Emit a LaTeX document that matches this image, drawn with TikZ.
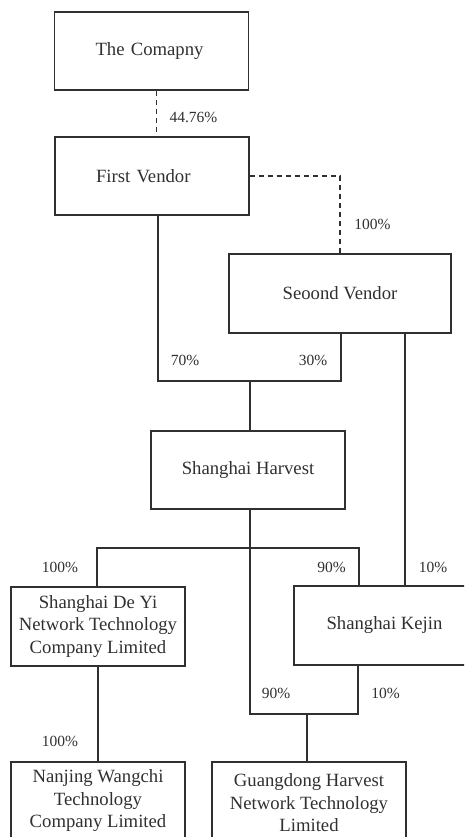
\documentclass[tikz,border=0pt]{standalone}
\usepackage{fontspec}
\setmainfont{Liberation Serif}
\definecolor{ink}{HTML}{303030}
\begin{document}
\begin{tikzpicture}[x=1pt,y=-1pt,
  box/.style={draw=ink, line width=1.2pt, rectangle, text=ink, align=center,
    inner sep=2pt, font=\fontsize{18.7}{22.5}\selectfont},
  lbox/.style={box, align=left, inner xsep=41pt, text width=112pt},
  pct/.style={text=ink, inner sep=0pt, font=\fontsize{15.5}{18}\selectfont},
  link/.style={draw=ink, line width=1.1pt},
  dlink/.style={link, dash pattern=on 5pt off 4pt}]
\useasboundingbox (0,0) rectangle (464,837);
\clip (0,0) rectangle (464,837);

% boxes
\node[lbox, minimum height=78pt] (comp) at (151.5,51) {The Comapny};
\node[lbox, minimum height=78pt] (fv) at (152,176) {First Vendor};
\node[box, minimum width=222pt, minimum height=79pt] (sv) at (340,293.5) {Seoond Vendor};
\node[box, minimum width=194pt, minimum height=78pt] (sh) at (248,470) {Shanghai Harvest};
\node[box, minimum width=174pt, minimum height=79pt] (dy) at (98,626.5) {Shanghai De Yi\\Network Technology\\Company Limited};
\node[box, minimum width=181pt, minimum height=79pt] (kj) at (384.5,625.5) {Shanghai Kejin};
\node[box, minimum width=174pt, minimum height=78pt] (nj) at (98,801) {Nanjing Wangchi\\Technology\\Company Limited};
\node[box, minimum width=194pt, minimum height=82pt] (gd) at (309,803) {Guangdong Harvest\\Network Technology\\Limited};

% junction coordinates
\coordinate (dc) at (156.5,0);
\coordinate (j1) at (158,381);
\coordinate (j2) at (341,381);
\coordinate (j3) at (250,381);
\coordinate (j4) at (97,548);
\coordinate (j5) at (359,548);
\coordinate (j6) at (250,714);
\coordinate (j7) at (358,714);
\coordinate (j8) at (307,714);
\coordinate (kx) at (405,0);

% connectors
\draw[dlink] (comp.south -| dc) -- (fv.north -| dc);
\draw[dlink] (fv.east) -| (sv.north);
\draw[link] (fv.south -| j1) -- (j1) -- (j2) -- (sv.south -| j2);
\draw[link] (j3) -- (sh.north -| j3);
\draw[link] (dy.north -| j4) -- (j4) -- (j5) -- (kj.north -| j5);
\draw[link] (sh.south -| j6) -- (j6) -- (j7) -- (kj.south -| j7);
\draw[link] (j8) -- (gd.north -| j8);
\draw[link] (sv.south -| kx) -- (kj.north -| kx);
\draw[link] (dy.south) -- (nj.north);

% labels
\node[pct] (p1) at (193.5,117) {44.76\%};
\node[pct] (p2) at (372.5,224) {100\%};
\node[pct] (p3) at (185,360) {70\%};
\node[pct] (p4) at (313,360) {30\%};
\node[pct] (p5) at (60,567) {100\%};
\node[pct] (p6) at (331.5,567) {90\%};
\node[pct] (p7) at (433,567) {10\%};
\node[pct] (p8) at (276,693) {90\%};
\node[pct] (p9) at (385.5,693) {10\%};
\node[pct] (p10) at (60,741) {100\%};
\end{tikzpicture}
\end{document}
